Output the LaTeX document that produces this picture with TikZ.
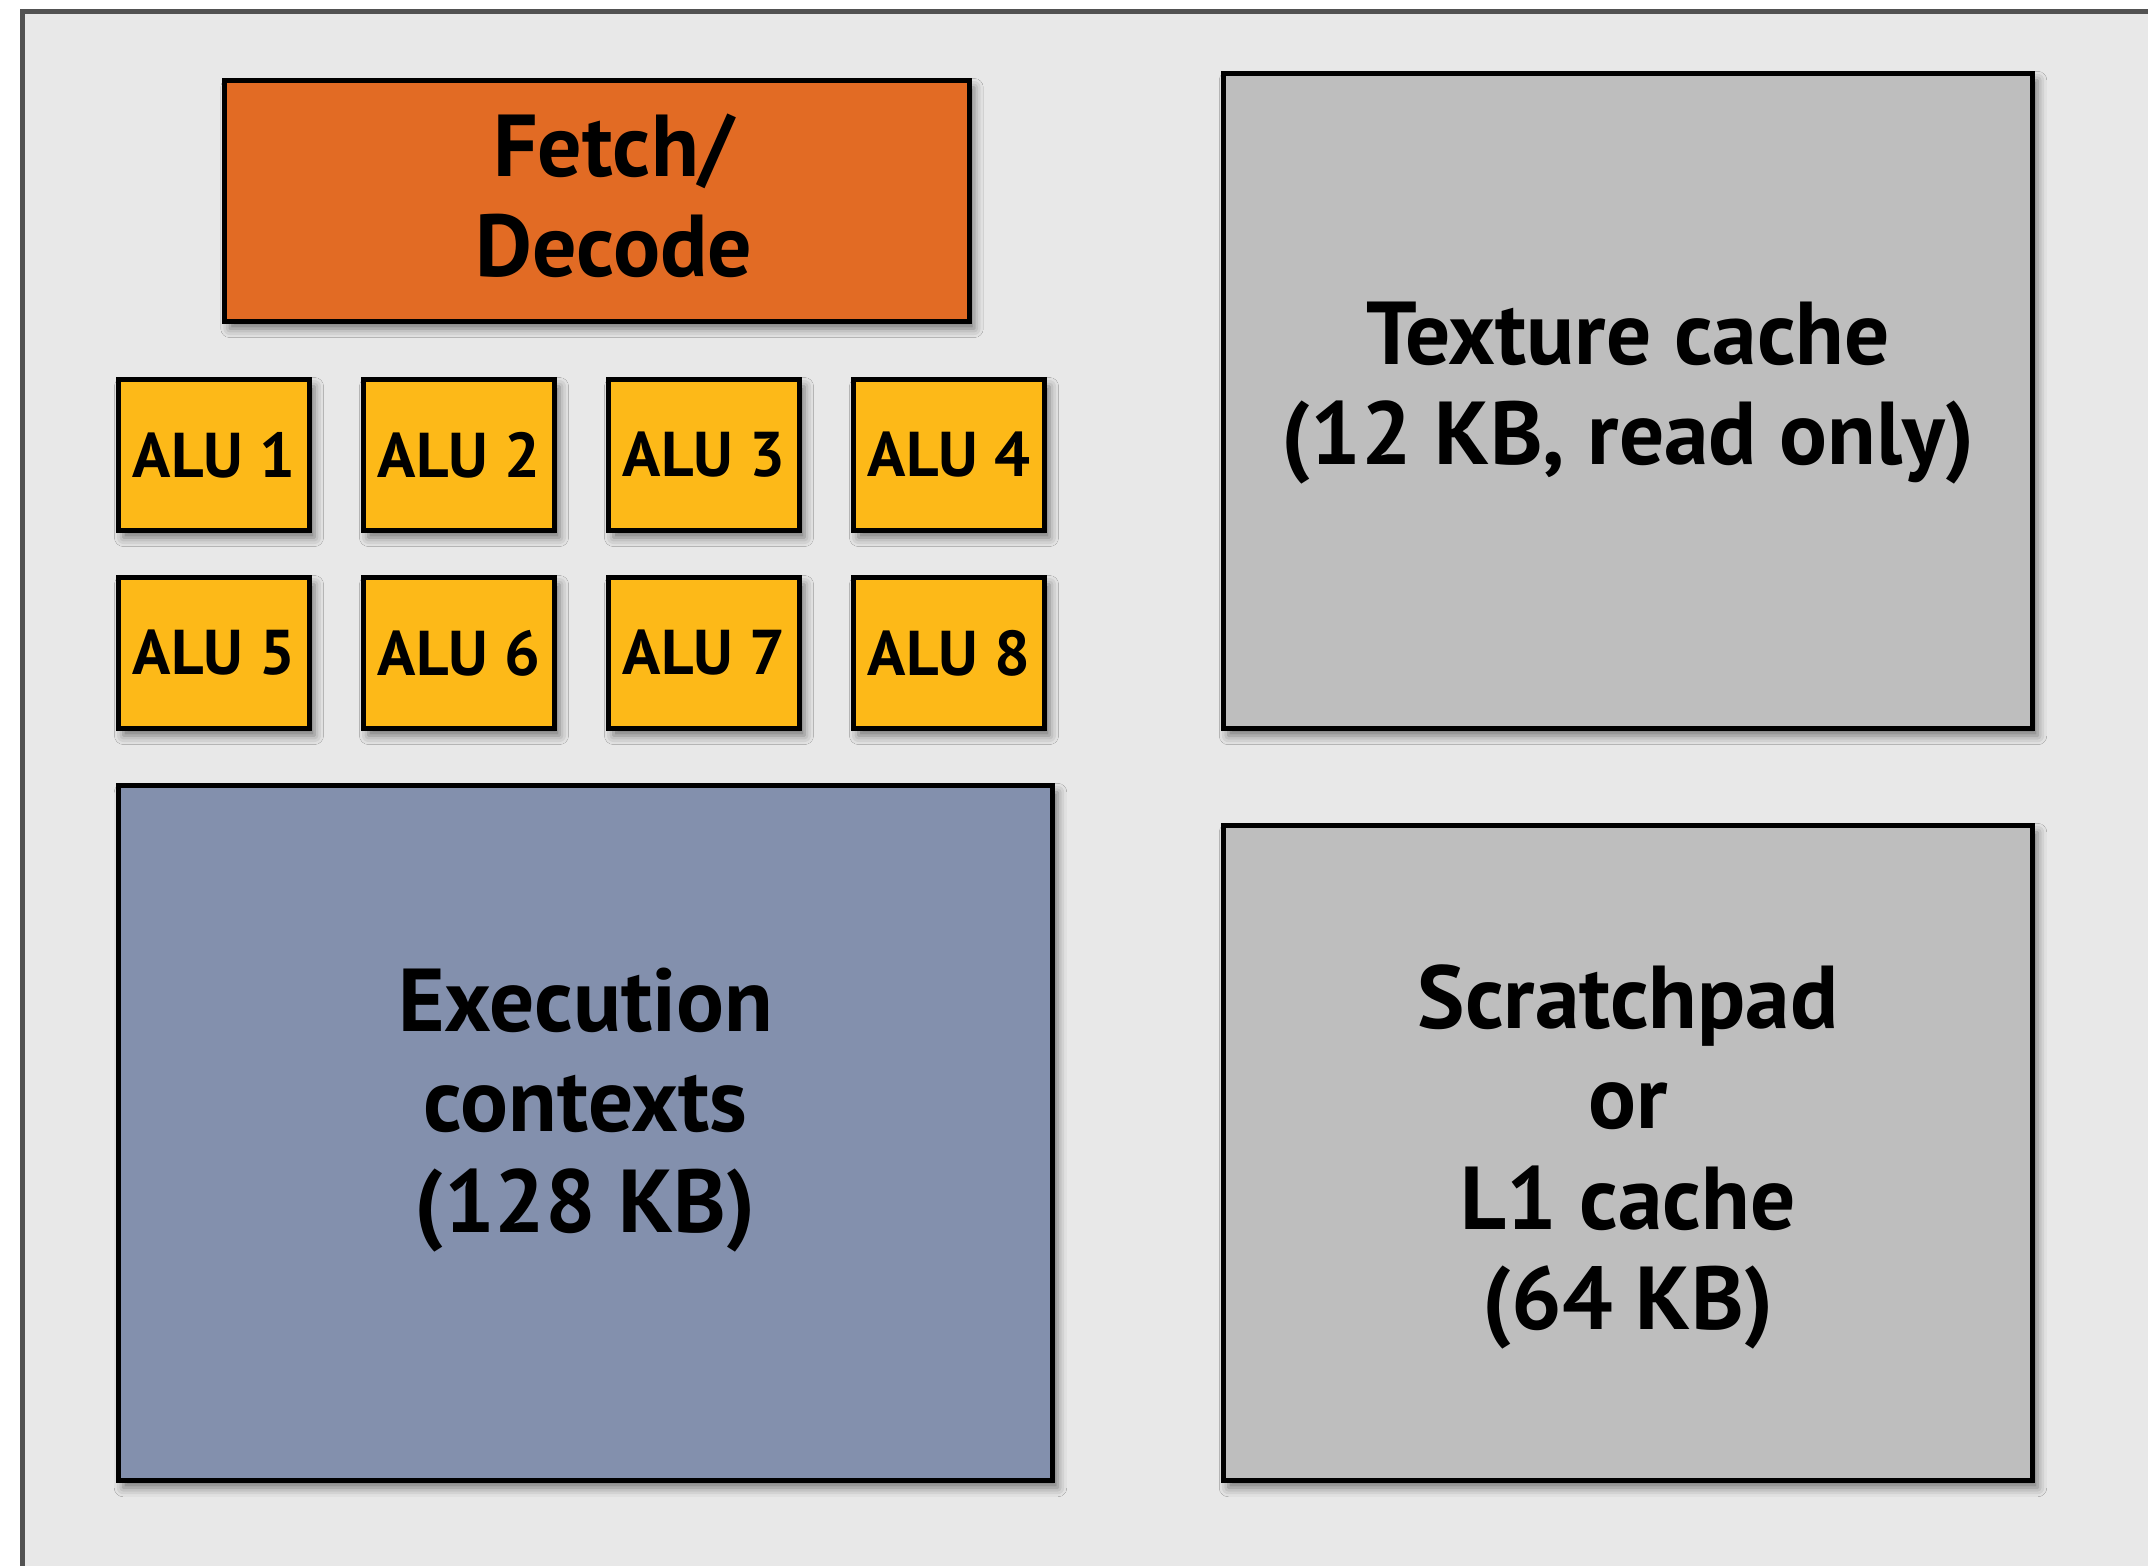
\documentclass[tikz,border=0pt]{standalone}
\usepackage{fontspec}
\setmainfont{PT Sans}
\usetikzlibrary{calc,shadows.blur}
\definecolor{bgc}{HTML}{E8E8E8}
\definecolor{framec}{HTML}{525252}
\definecolor{fetchc}{HTML}{E26B24}
\definecolor{aluc}{HTML}{FDB918}
\definecolor{execc}{HTML}{8390AD}
\definecolor{cachec}{HTML}{BEBEBE}
\tikzset{
  box/.style={draw=black, line width=1.45pt, rectangle, inner sep=0pt,
    blur shadow={shadow xshift=0.05cm, shadow yshift=-0.07cm, shadow blur radius=0.09cm, shadow opacity=50}},
  alubox/.style={box, fill=aluc, minimum width=1.91cm, minimum height=1.51cm,
    font=\bfseries\fontsize{18}{20}\selectfont},
  bigtext/.style={align=center, font=\bfseries\fontsize{25.4}{28.6}\selectfont, inner sep=0pt},
}
\begin{document}
\begin{tikzpicture}[x=0.01cm, y=-0.01cm]
\useasboundingbox (0,0) rectangle (2148,1565);
\fill[white] (0,0) rectangle (2148,1565);
\begin{scope}
\clip (0,0) rectangle (2148,1565);
\draw[framec, fill=bgc, line width=1.45pt] (22.5,11.5) rectangle (2200,1620);
\end{scope}
% Fetch/Decode
\node[box, fill=fetchc, minimum width=7.44cm, minimum height=2.41cm] (fetch) at (597,201) {};
\node[align=center, inner sep=0pt, font=\bfseries\fontsize{25}{28.5}\selectfont] (fetcht) at ($(fetch.center)+(17,-5)$) {Fetch/\\Decode};
% ALUs
\node[alubox] (alu1) at (214,455) {ALU 1};
\node[alubox] (alu2) at (459,455) {ALU 2};
\node[alubox] (alu3) at (704,455) {ALU 3};
\node[alubox] (alu4) at (949,455) {ALU 4};
\node[alubox] (alu5) at (214,653) {ALU 5};
\node[alubox] (alu6) at (459,653) {ALU 6};
\node[alubox] (alu7) at (704,653) {ALU 7};
\node[alubox] (alu8) at (949,653) {ALU 8};
% Execution contexts
\node[box, fill=execc, minimum width=9.34cm, minimum height=6.95cm] (exec) at (585.5,1133) {};
\node[bigtext] (exect) at ($(exec.center)+(0,-23)$) {Execution\\contexts\\(128 KB)};
% Texture cache
\node[box, fill=cachec, minimum width=8.09cm, minimum height=6.55cm] (tex) at (1628,401) {};
\node[bigtext] (text) at ($(tex.center)+(0,-8)$) {Texture cache\\(12 KB, read only)};
% Scratchpad
\node[box, fill=cachec, minimum width=8.09cm, minimum height=6.55cm] (scratch) at (1628,1153) {};
\node[bigtext] (scratcht) at ($(scratch.center)+(0,4)$) {Scratchpad\\or\\L1 cache\\(64 KB)};
\end{tikzpicture}
\end{document}
